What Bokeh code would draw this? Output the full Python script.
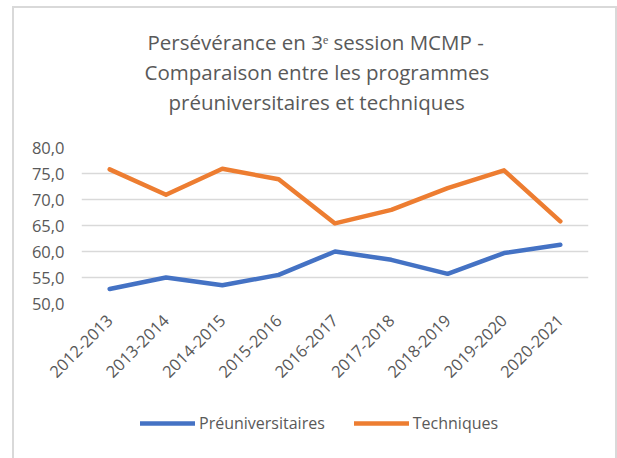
from bokeh.plotting import figure
from bokeh.models import Legend, LegendItem, FixedTicker, CustomJSTickFormatter, Title, InlineStyleSheet
from bokeh.layouts import column
from bokeh.embed import file_html
from bokeh.resources import INLINE
import math

years = ["2012-2013", "2013-2014", "2014-2015", "2015-2016", "2016-2017",
         "2017-2018", "2018-2019", "2019-2020", "2020-2021"]
preuniversitaires = [52.8, 55.0, 53.5, 55.5, 60.0, 58.4, 55.7, 59.7, 61.3]
techniques = [75.8, 70.9, 75.9, 73.9, 65.4, 68.0, 72.2, 75.6, 65.8]
y_ticks = [50, 55, 60, 65, 70, 75, 80]
series_names = ["Préuniversitaires", "Techniques"]
series_colors = ["#4472C4", "#ED7D31"]
title_lines = ["Persévérance en 3ᵉ session MCMP -",
               "Comparaison entre les programmes",
               "préuniversitaires et techniques"]
title_offsets = [66, 63, 87]

FONT = "Open Sans"
GRAY = "#595959"

p = figure(x_range=years, y_range=(50, 80), width=617, height=400,
           output_backend="svg", toolbar_location=None, title_location=None,
           min_border_left=81, min_border_right=29, min_border_top=147, min_border_bottom=97)
p.outline_line_color = None
p.background_fill_color = "white"
p.border_fill_color = "white"

p.xgrid.grid_line_color = None
p.ygrid.grid_line_color = "#d9d9d9"
p.ygrid.grid_line_width = 1.3

p.yaxis.ticker = FixedTicker(ticks=y_ticks)
p.yaxis.formatter = CustomJSTickFormatter(code="return tick.toFixed(1).replace('.', ',');")
for ax in (p.xaxis[0], p.yaxis[0]):
    ax.axis_line_color = None
    ax.major_tick_line_color = None
    ax.minor_tick_line_color = None
    ax.major_tick_out = 0
    ax.major_tick_in = 0
    ax.minor_tick_out = 0
    ax.major_label_text_font = FONT
    ax.major_label_text_font_size = "16.5px"
    ax.major_label_text_color = GRAY
p.xaxis.major_label_orientation = math.pi / 4
p.xaxis.major_label_standoff = 14
p.yaxis.major_label_standoff = 17

for vals, name, col in zip([preuniversitaires, techniques], series_names, series_colors):
    p.line(years, vals, line_color=col, line_width=4.5, line_cap="round", line_join="round")

# spacer between frame and title block
p.add_layout(Title(text=" ", text_font_size="1px", standoff=29), "above")
for t, off in reversed(list(zip(title_lines, title_offsets))):
    p.add_layout(Title(text=t, align="left", offset=off, standoff=0,
                       text_font=FONT, text_font_size="20.5px", text_color=GRAY,
                       text_font_style="normal"), "above")

# legend strip below the chart (its frame is aligned with the chart's frame)
pl = figure(width=617, height=58, output_backend="svg", toolbar_location=None,
            title_location=None, x_axis_location=None, y_axis_location=None,
            min_border=0, x_range=(0, 1), y_range=(0, 1))
pl.outline_line_color = None
pl.grid.grid_line_color = None
pl.background_fill_color = "white"
pl.border_fill_color = "white"
items = []
nan = float("nan")
for name, col in zip(series_names, series_colors):
    r = pl.line([nan, nan], [nan, nan], line_color=col, line_width=4.5, line_cap="round")
    items.append(LegendItem(label=name, renderers=[r]))
legend = Legend(items=items, orientation="horizontal", location=(59, 24),
                glyph_width=55, glyph_height=22, label_height=22,
                label_standoff=4, spacing=29, padding=0, margin=0,
                border_line_color=None, background_fill_alpha=0,
                label_text_font=FONT, label_text_font_size="16px", label_text_color=GRAY)
pl.add_layout(legend, "center")

layout = column(p, pl, spacing=0)
layout.stylesheets = [InlineStyleSheet(css="""
:host { position: relative; }
:host::after {
  content: ""; position: absolute; left: 12px; top: 6px; width: 605px; height: 452px;
  box-sizing: border-box; border: 2px solid #d9d9d9; border-bottom: none;
  pointer-events: none; z-index: 10;
}
""")]
open("out.html", "w").write(file_html(layout, INLINE))
